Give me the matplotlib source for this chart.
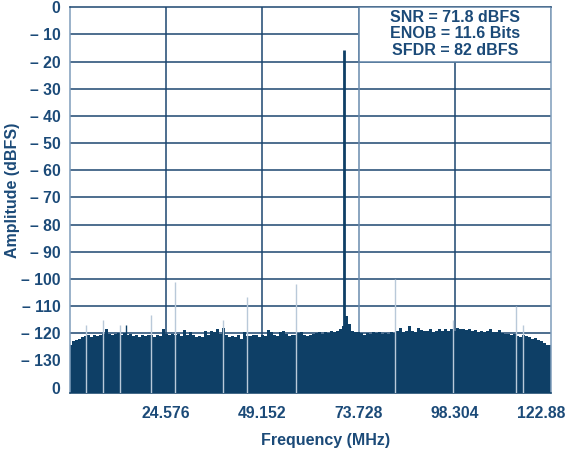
import numpy as np
import matplotlib
matplotlib.use("Agg")
import matplotlib.pyplot as plt
import matplotlib.transforms as mtransforms
from matplotlib.patches import Rectangle

plt.rcParams['font.family'] = ['Liberation Sans', 'DejaVu Sans']

# noise floor top (dBFS), one value per 0.768 MHz bin from 0 to 122.88 MHz
noise_floor = [
    -124.5, -123.0, -122.5, -122.0, -121.5, -121.0, -120.8, -121.2, -120.6, -120.9,
    -120.5, -120.4, -118.6, -120.2, -120.6, -120.3, -120.0, -120.5, -120.0, -120.8,
    -120.4, -121.0, -120.6, -121.3, -120.8, -121.0, -120.7, -120.8, -121.2, -120.5,
    -120.9, -118.6, -120.3, -120.5, -120.2, -120.6, -120.4, -120.9, -118.8, -120.5,
    -119.5, -120.8, -121.3, -121.0, -121.5, -119.0, -120.5, -119.2, -119.4, -118.6,
    -120.3, -118.2, -120.6, -121.2, -121.0, -121.4, -120.8, -122.0, -119.6, -120.9,
    -121.0, -120.5, -120.8, -121.2, -120.6, -120.9, -118.8, -119.5, -120.7, -120.9,
    -119.6, -119.2, -120.4, -121.0, -120.6, -120.8, -119.8, -119.4, -120.5, -120.9,
    -120.6, -120.4, -119.8, -119.6, -120.1, -119.5, -119.8, -119.3, -119.7, -119.2,
    -118.4, -117.5, -113.5, -116.6, -119.0, -119.4, -119.6, -119.9, -120.6, -119.8,
    -120.1, -119.7, -120.0, -119.5, -120.3, -119.9, -120.4, -119.6, -119.8, -119.3,
    -118.0, -119.4, -119.0, -117.3, -119.2, -119.5, -118.0, -118.8, -119.3, -119.0,
    -118.5, -119.4, -119.2, -118.5, -119.0, -118.3, -119.0, -118.6, -119.2, -118.0,
    -118.6, -118.3, -118.9, -118.6, -119.2, -118.8, -119.4, -119.0, -119.6, -119.3,
    -118.6, -119.7, -119.4, -118.8, -120.0, -120.4, -120.2, -120.6, -120.3, -120.9,
    -121.2, -120.6, -121.0, -121.4, -122.0, -121.6, -122.5, -122.9, -123.6, -124.3,
    -124.5,
]
fs_half = 122.88

# spurs: frequency (MHz), level (dBFS)
spur_freq = [4.14, 8.48, 12.9, 20.8, 26.9, 39.1, 45.1, 57.8, 83.1, 97.8, 113.9, 115.8]
spur_level = [-117.0, -115.0, -117.0, -113.4, -101.0, -115.3, -106.8, -102.0, -100.0, -115.0, -110.0, -117.0]
dark_spur_freq = [14.2]
dark_spur_level = [-117.0]

fund_freq = 70.05
fund_level = -15.7

xticks = [24.576, 49.152, 73.728, 98.304, 122.88]
xtick_labels = ["24.576", "49.152", "73.728", "98.304", "122.88"]
yticks = [0, -10, -20, -30, -40, -50, -60, -70, -80, -90, -100, -110, -120, -130, -140]
ytick_labels = ["0"] + ["\u2013 %d" % (-v) for v in yticks[1:-1]] + ["0"]

stats = ["SNR = 71.8 dBFS", "ENOB = 11.6 Bits", "SFDR = 82 dBFS"]

navy = "#0e3f66"
grid_c = "#1c4670"
text_c = "#1b4a78"
light = "#b9c9d9"
bottom = -142

freq = np.arange(len(noise_floor)) * fs_half / (len(noise_floor) - 1)

fig = plt.figure(figsize=(5.68, 4.5), dpi=100)
ax = fig.add_axes([70 / 568, 1 - 393 / 450, 481 / 568, (393 - 7.3) / 450])

# grid
for yv in yticks[1:-1]:
    ax.axhline(yv, color=grid_c, lw=1.1, zorder=1)
for xv in xticks[:-1]:
    c = "#6a8cae" if xv == 73.728 else grid_c
    ax.axvline(xv, color=c, lw=1.1, zorder=1)

ax.fill_between(freq, noise_floor, bottom, step="mid", color=navy, lw=0, zorder=2)
ax.vlines(spur_freq, bottom, spur_level, color=light, lw=1.0, zorder=3)
ax.vlines(dark_spur_freq, bottom, dark_spur_level, color=navy, lw=1.0, zorder=3)
ax.vlines([fund_freq], bottom, [fund_level], color=navy, lw=2.0, zorder=4)

# stats box
box = Rectangle((73.728, -20), fs_half - 73.728, 20, facecolor="white",
                edgecolor="#5f82a5", lw=1.1, zorder=5)
ax.add_patch(box)
for i, s in enumerate(stats):
    ax.text((73.728 + fs_half) / 2, -3.8 - 6.0 * i, s, ha="center", va="center",
            fontsize=11.5, fontweight="bold", color=text_c, zorder=6)

ax.set_xlim(0, fs_half)
ax.set_ylim(bottom, 0)
ax.set_xticks(xticks)
ax.set_xticklabels(xtick_labels)
ax.set_yticks(yticks)
ax.set_yticklabels(ytick_labels)
ax.tick_params(length=0, labelsize=11.3, labelcolor=text_c)
ax.tick_params(axis="x", pad=9)
ax.tick_params(axis="y", pad=7)
for lab in ax.get_xticklabels() + ax.get_yticklabels():
    lab.set_fontweight("bold")
last = ax.get_xticklabels()[-1]
last.set_transform(last.get_transform() + mtransforms.ScaledTranslation(-10 / 100, 0, fig.dpi_scale_trans))

for side in ["left", "right"]:
    ax.spines[side].set_color("#7f9dbb")
ax.spines["top"].set_color(grid_c)
ax.spines["bottom"].set_color(navy)
for sp in ax.spines.values():
    sp.set_linewidth(1.1)

ax.set_xlabel("Frequency (MHz)", fontsize=11.5, fontweight="bold", color=text_c, labelpad=9)
ax.xaxis.set_label_coords(0.532, -0.105)
ax.set_ylabel("Amplitude (dBFS)", fontsize=11.5, fontweight="bold", color=text_c)
ax.yaxis.set_label_coords(-0.104, 0.526)

fig.savefig("out.png", dpi=100)
